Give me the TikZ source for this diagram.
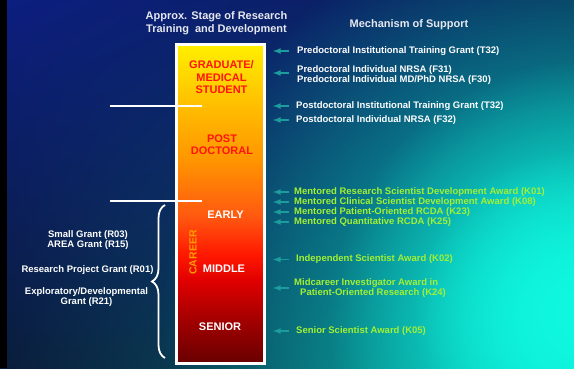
\documentclass[tikz,border=0pt]{standalone}
\usepackage{fontspec}
\setmainfont{Liberation Sans}
\usetikzlibrary{calc,arrows,fadings,shadings,decorations.pathreplacing}

\definecolor{bgtopleft}{HTML}{0C1E80}
\definecolor{bgtopright}{HTML}{0A2252}
\definecolor{bgbotleft}{HTML}{0A1C3A}
\definecolor{bgbotright}{HTML}{0A7A80}
\definecolor{glowteal}{HTML}{08C8BC}
\definecolor{glowcyan}{HTML}{10F8E0}
\definecolor{arrowteal}{HTML}{1C9C9C}
\definecolor{awardgreen}{HTML}{A2F033}
\definecolor{stagered}{HTML}{FF1410}
\definecolor{careerorange}{HTML}{FF9C00}
\definecolor{titlegray}{HTML}{E6E8F0}
\definecolor{barA}{HTML}{680000}
\definecolor{barB}{HTML}{A00000}
\definecolor{barC}{HTML}{E00000}
\definecolor{barD}{HTML}{FF1800}
\definecolor{barE}{HTML}{FF5810}
\definecolor{barF}{HTML}{FF9600}
\definecolor{barG}{HTML}{FFBC00}
\definecolor{barH}{HTML}{FFF000}

% the path is fitted to 25bp..75bp of the shading
\pgfdeclareverticalshading{barshade}{100bp}{color(0bp)=(barA); color(25bp)=(barA);
  color(31.5bp)=(barB); color(38bp)=(barC); color(42bp)=(barD); color(48bp)=(barE);
  color(57bp)=(barF); color(65bp)=(barG); color(75bp)=(barH); color(100bp)=(barH)}
\tikzfading[name=glowfade, inner color=transparent!0, outer color=transparent!100]

\tikzset{
  title/.style={text=titlegray, align=center, inner sep=0pt,
    font=\bfseries\fontsize{11}{13}\selectfont},
  stage/.style={align=center, inner sep=0pt, font=\bfseries\fontsize{11}{12.5}\selectfont},
  mech/.style={text=white, anchor=west, align=left, inner sep=0pt},
  award/.style={mech, text=awardgreen},
  grant/.style={text=white, align=center, inner sep=0pt},
  arr/.style={-latex, draw=arrowteal, line width=1.6pt},
  divider/.style={white, line width=2.5pt}
}

\begin{document}
\begin{tikzpicture}[x=1pt, y=-1pt, font=\bfseries\fontsize{9.5}{10}\selectfont]
	\useasboundingbox (0,0) rectangle (574,368);
	% background
	\begin{scope}
		\clip (0,0) rectangle (574,368);
		\shade[upper left=bgtopleft, upper right=bgtopright, lower left=bgbotleft,
		  lower right=bgbotright] (0,0) rectangle (574,368);
		\fill[glowteal, path fading=glowfade] (590,330) circle (430);
		\fill[glowcyan, path fading=glowfade] (590,320) circle (260);
		\fill[glowcyan, path fading=glowfade] (574,310) circle (160);
		\fill[black] (0,0) rectangle (7,368);
	\end{scope}

	\node (head1) at (216.5,23.5) [title] {Approx. Stage of Research\\Training~ and Development};
	\node (head2) at (409,25) [title] {Mechanism of Support};

	% the career bar
	\node (bar) at (220,203.75) [shade, shading=barshade, draw=white, line width=3pt,
	  minimum width=88pt, minimum height=319.5pt] {};
	\node (grad) at (221.5,77.5) [stage, text=stagered] {GRADUATE/\\MEDICAL\\STUDENT};
	\node (post) at (222,144.5) [stage, text=stagered] {POST\\DOCTORAL};
	\node (early) at (225.5,215) [stage, text=white] {EARLY};
	\node (middle) at (224,269) [stage, text=white] {MIDDLE};
	\node (senior) at (220,327) [stage, text=white] {SENIOR};
	\node (career) at (193,252.5) [stage, text=careerorange, rotate=90,
	  font=\bfseries\fontsize{10.5}{12}\selectfont] {CAREER};

	\draw[divider] (110,106) -- (202,106);
	\draw[divider] (110,201) -- (202,201);
	\draw[white, line width=1.8pt, decorate, decoration={brace, amplitude=13pt}]
	  (165,358) -- (165,205);

	% grants on the left
	\node (r03) at (88,240) [grant] {Small Grant (R03)\\AREA Grant (R15)};
	\node (r01) at (87.5,270) [grant] {Research Project Grant (R01)};
	\node (r21) at (86.5,297.5) [grant] {Exploratory/Developmental\\Grant (R21)};

	% mechanisms on the right
	\node (t32a) at (297,51) [mech] {Predoctoral Institutional Training Grant (T32)};
	\node (f31) at (297,75) [mech] {Predoctoral Individual NRSA (F31)\\Predoctoral Individual MD/PhD NRSA (F30)};
	\node (t32b) at (296,106) [mech] {Postdoctoral Institutional Training Grant (T32)};
	\node (f32) at (296,120) [mech] {Postdoctoral Individual NRSA (F32)};
	\node (k01) at (294,192) [award] {Mentored Research Scientist Development Award (K01)};
	\node (k08) at (294,202) [award] {Mentored Clinical Scientist Development Award (K08)};
	\node (k23) at (294,212) [award] {Mentored Patient-Oriented RCDA (K23)};
	\node (k25) at (294,222) [award] {Mentored Quantitative RCDA (K25)};
	\node (k02) at (296,259.5) [award] {Independent Scientist Award (K02)};
	\node (k24) at (294,288) [award] {Midcareer Investigator Award in\\\hspace*{6pt}Patient-Oriented Research (K24)};
	\node (k05) at (296,331) [award] {Senior Scientist Award (K05)};

	\foreach \m in {t32a,t32b,f32,k01,k08,k23,k25,k02,k24,k05}
		\draw[arr] ($(\m.west -| bar.east)+(23.5,0)$) -- ($(\m.west -| bar.east)+(7.5,0)$);
	\draw[arr] ($(f31.west -| bar.east)+(23.5,-2)$) -- ($(f31.west -| bar.east)+(7.5,-2)$);
\end{tikzpicture}
\end{document}
